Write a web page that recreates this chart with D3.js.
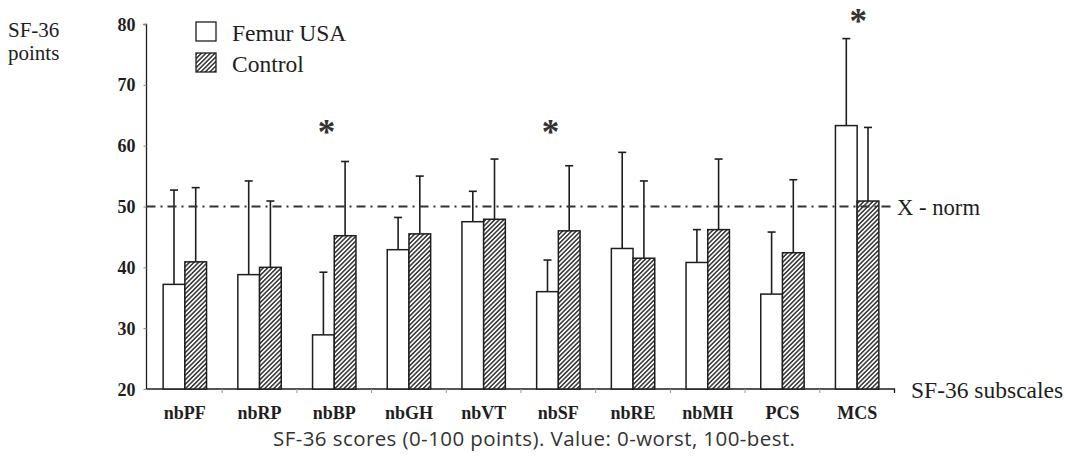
<!DOCTYPE html>
<html><head><meta charset="utf-8">
<script src="https://cdn.jsdelivr.net/npm/d3@7"></script>
<style>
html,body{margin:0;padding:0;background:#fff;}
svg{display:block;}
</style></head>
<body>
<svg id="chart" width="1068" height="460"></svg>
<script>
const categories = ["nbPF","nbRP","nbBP","nbGH","nbVT","nbSF","nbRE","nbMH","PCS","MCS"];
const seriesNames = ["Femur USA","Control"];
const femurMean = [37.2, 38.8, 28.9, 42.9, 47.5, 36.0, 43.1, 40.8, 35.6, 63.3];
const femurSD   = [15.5, 15.4, 10.3,  5.3,  5.0,  5.2, 15.8,  5.4, 10.2, 14.3];
const controlMean = [40.9, 40.0, 45.2, 45.5, 47.9, 46.0, 41.5, 46.2, 42.4, 50.9];
const controlSD   = [12.2, 10.9, 12.2,  9.5,  9.9, 10.7, 12.7, 11.6, 12.0, 12.1];
const significant = ["nbBP","nbSF","MCS"];
const yTicks = [20,30,40,50,60,70,80];
const normValue = 50;

const svg = d3.select("#chart");
const serif = "'Liberation Serif','Times New Roman',serif";
const ink = "#1e1e1e";

const defs = svg.append("defs");
const hs = 3.2;
const pat = defs.append("pattern").attr("id","hatch").attr("patternUnits","userSpaceOnUse")
  .attr("width",hs).attr("height",hs).attr("patternTransform","rotate(45)");
pat.append("rect").attr("width",hs).attr("height",hs).attr("fill","#fff");
pat.append("line").attr("x1",0.8).attr("y1",0).attr("x2",0.8).attr("y2",hs)
  .attr("stroke","#2a2a2a").attr("stroke-width",1.45);

const y = d3.scaleLinear().domain([20,80]).range([389,24]);
const x0 = d3.scaleBand().domain(categories).range([147.5,894.5]).padding(0);
const bw = x0.bandwidth();
const x1 = d3.scaleBand().domain(seriesNames).range([bw/2-21.7, bw/2+21.7]).padding(0);

// y axis
const yAxis = d3.axisLeft(y).tickValues(yTicks).tickSize(3).tickPadding(6);
const gy = svg.append("g").attr("transform","translate(146.5,0)").call(yAxis);
gy.select(".domain").attr("stroke",ink).attr("stroke-width",1.3).attr("d","M-3,24.5H0V389");
gy.selectAll(".tick line").attr("stroke","#888");
gy.selectAll(".tick text").attr("font-family",serif).attr("font-weight","bold")
  .attr("font-size",18).attr("fill",ink).attr("x",-11).attr("dy","0.34em");

// x axis
const xAxis = d3.axisBottom(x0).tickSize(0).tickPadding(17);
const gx = svg.append("g").attr("transform","translate(0,389)").call(xAxis);
gx.select(".domain").attr("stroke",ink).attr("stroke-width",1.3).attr("d","M146.5,0H894.5V4");
gx.selectAll(".tick text").attr("font-family",serif).attr("font-weight","bold")
  .attr("font-size",18).attr("fill",ink);
svg.append("g").selectAll("line").data(categories.slice(1)).join("line")
  .attr("x1",d=>x0(d)).attr("x2",d=>x0(d)).attr("y1",389).attr("y2",393)
  .attr("stroke","#999").attr("stroke-width",1);

const rows = categories.map((c,i)=>({cat:c, vals:[
  {s:seriesNames[0], m:femurMean[i], sd:femurSD[i]},
  {s:seriesNames[1], m:controlMean[i], sd:controlSD[i]}]}));

const groups = svg.append("g").selectAll("g").data(rows).join("g")
  .attr("transform",d=>`translate(${x0(d.cat)},0)`);

groups.selectAll("g.err").data(d=>d.vals).join("g").attr("class","err").each(function(d){
  const g = d3.select(this);
  const cx = x1(d.s)+x1.bandwidth()/2;
  g.append("line").attr("x1",cx).attr("x2",cx).attr("y1",y(d.m)).attr("y2",y(d.m+d.sd))
    .attr("stroke",ink).attr("stroke-width",1.6);
  g.append("line").attr("x1",cx-4).attr("x2",cx+4).attr("y1",y(d.m+d.sd)).attr("y2",y(d.m+d.sd))
    .attr("stroke",ink).attr("stroke-width",1.6);
});

groups.selectAll("rect").data(d=>d.vals).join("rect")
  .attr("x",d=>x1(d.s)).attr("width",x1.bandwidth())
  .attr("y",d=>y(d.m)).attr("height",d=>y(20)-y(d.m))
  .attr("fill",d=>d.s===seriesNames[0]?"#fff":"url(#hatch)")
  .attr("stroke",ink).attr("stroke-width",1.5);

// norm line
svg.append("line").attr("x1",146.5).attr("x2",893).attr("y1",y(normValue)).attr("y2",y(normValue))
  .attr("stroke","#333").attr("stroke-width",2).attr("stroke-dasharray","9,5,2,5");
svg.append("text").attr("x",897).attr("y",y(normValue)+8).text("X - norm")
  .attr("font-family",serif).attr("font-size",23).attr("fill",ink)
  .attr("textLength",83).attr("lengthAdjust","spacingAndGlyphs");

// significance stars
svg.append("g").selectAll("text").data(significant).join("text")
  .attr("x",d=> d==="MCS"? x0(d)+bw/2+1 : x0(d)+x1(seriesNames[0])+x1.bandwidth()/2+3)
  .attr("y",d=> d==="MCS"? 33 : 144)
  .attr("text-anchor","middle").text("*")
  .attr("font-family",serif).attr("font-size",35).attr("font-weight","bold").attr("fill","#333");

// axis titles
svg.append("text").attr("x",8).attr("y",37).text("SF-36")
  .attr("font-family",serif).attr("font-size",21).attr("fill",ink);
svg.append("text").attr("x",8).attr("y",60).text("points")
  .attr("font-family",serif).attr("font-size",21).attr("fill",ink);
svg.append("text").attr("x",911).attr("y",398).text("SF-36 subscales")
  .attr("font-family",serif).attr("font-size",23.5).attr("fill",ink);

// legend
const leg = svg.append("g").selectAll("g").data(seriesNames).join("g")
  .attr("transform",(d,i)=>`translate(196,${22+i*31})`);
leg.append("rect").attr("width",20).attr("height",19)
  .attr("fill",(d,i)=>i===0?"#fff":"url(#hatch)").attr("stroke",ink).attr("stroke-width",1.3);
leg.append("text").attr("x",36).attr("y",19).text(d=>d)
  .attr("font-family",serif).attr("font-size",23.5).attr("fill",ink);

// caption
svg.append("text").attr("x",534).attr("y",446).attr("text-anchor","middle")
  .text("SF-36 scores (0-100 points). Value: 0-worst, 100-best.")
  .attr("font-family","'Open Sans','Noto Sans',sans-serif").attr("font-size",20.5).attr("fill","#333")
  .attr("textLength",522).attr("lengthAdjust","spacing");
</script>
</body></html>
